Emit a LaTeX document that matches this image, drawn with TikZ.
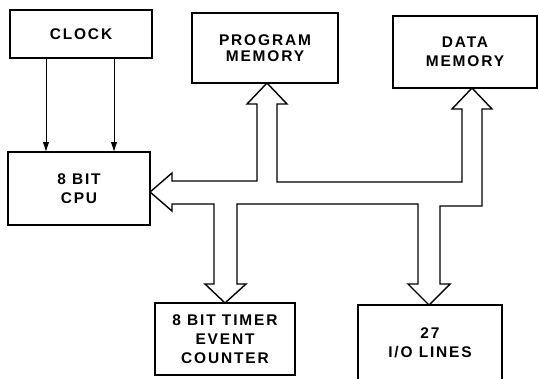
\documentclass[tikz,border=0pt]{standalone}
\usepackage{fontspec}
\newfontfamily\labelfont[LetterSpace=12]{Liberation Sans}
\usepackage{tikz}
\usetikzlibrary{arrows.meta, positioning, calc}

\begin{document}
\begin{tikzpicture}[x=0.025cm,y=-0.025cm,
	block/.style={draw=black,line width=1.2pt,inner sep=0pt,outer sep=0pt,align=center,
		font=\labelfont\bfseries\fontsize{11}{13.5}\selectfont},
	bus/.style={draw=black,line width=1pt,line join=miter,fill=white},
	clk/.style={draw=black,line width=0.6pt,-{Latex[length=7pt,width=4.5pt]}}]
\useasboundingbox (0,0) rectangle (539,378);
\clip (0,0) rectangle (539,378);
% blocks
\node[block,minimum width=3.55cm,minimum height=1.2cm] (clock) at (81,34) {CLOCK};
\node[block,minimum width=3.55cm,minimum height=1.825cm] (cpu) at (79,188.5) {8 BIT\\CPU};
\node[block,minimum width=3.65cm,minimum height=1.75cm,font=\labelfont\bfseries\fontsize{11}{11.5}\selectfont] (pm) at (265,48) {PROGRAM\\MEMORY};
\node[block,minimum width=3.6cm,minimum height=1.8cm] (dm) at (465,52) {DATA\\MEMORY};
\node[block,minimum width=3.5cm,minimum height=1.8cm] (timer) at (225,339) {8 BIT TIMER\\EVENT\\COUNTER};
\node[block,minimum width=3.6cm,minimum height=1.9cm] (io) at (430,343) {27\\I/O LINES};
% clock lines
\foreach \x in {46,114}\draw[clk] (clock.south -| \x,0) -- (cpu.north -| \x,0);
% internal bus
\draw[bus] (cpu.east |- 0,192) -- (172,173) -- (172,181) -- (257,181) -- (257,104)
	-- (247,104) -- (pm.south -| 267,0) -- (287,104) -- (277,104) -- (277,182)
	-- (462,182) -- (462,109) -- (452,109) -- (dm.south -| 472,0) -- (492,109)
	-- (482,109) -- (482,206) -- (440,206) -- (440,284) -- (450,284)
	-- (io.north -| 429,0) -- (408,284) -- (418,284) -- (418,204) -- (237,204)
	-- (237,284) -- (246,284) -- (timer.north -| 225,0) -- (205,284) -- (214,284)
	-- (214,204) -- (172,204) -- (172,211) -- cycle;
\end{tikzpicture}
\end{document}
